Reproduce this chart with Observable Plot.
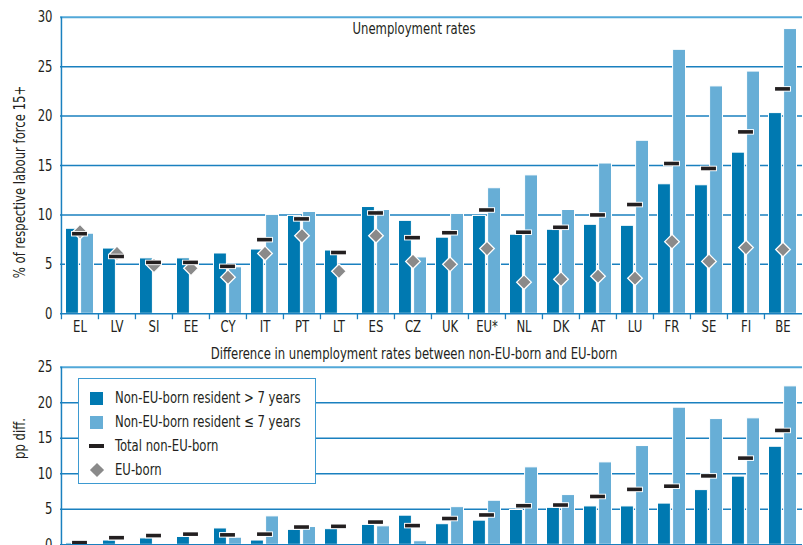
<!DOCTYPE html>
<html><head><meta charset="utf-8">
<script src="https://cdn.jsdelivr.net/npm/d3@7"></script>
<script src="https://cdn.jsdelivr.net/npm/@observablehq/plot@0.6"></script>
<style>
html,body{margin:0;padding:0;background:#fff;overflow:hidden;}
#wrap{position:relative;width:803px;height:545px;overflow:hidden;font-family:"Liberation Sans Narrow","Arial Narrow","DejaVu Sans Condensed",sans-serif;color:#231f20;}
#top{position:absolute;left:0;top:0;}
#bot{position:absolute;left:0;top:340px;}
#legend{position:absolute;left:78px;top:378px;width:236px;height:104px;border:1.5px solid #3d9ad1;background:#fff;font-size:16px;}
.row{position:absolute;left:0;height:24px;line-height:24px;width:230px;}
.row span.t{position:absolute;left:36px;top:0;white-space:nowrap;transform-origin:0 50%;}
.sw{position:absolute;}
</style>
</head><body>
<div id="wrap">
  <div id="top"></div>
  <div id="bot"></div>
  <div id="legend"></div>
</div>
<script>
const countries = ["EL","LV","SI","EE","CY","IT","PT","LT","ES","CZ","UK","EU*","NL","DK","AT","LU","FR","SE","FI","BE"];
// Unemployment rates (%)
const rateLong   = [8.6,6.6,5.6,5.6,6.1,6.5,9.9,6.4,10.8,9.4,7.7,9.9,8.0,8.5,9.0,8.9,13.1,13.0,16.3,20.3];
const rateRecent = [8.1,null,null,null,4.7,10.0,10.3,null,10.5,5.7,10.1,12.7,14.0,10.5,15.2,17.5,26.7,23.0,24.5,28.8];
const rateTotal  = [8.1,5.8,5.2,5.2,4.8,7.5,9.6,6.2,10.2,7.7,8.2,10.5,8.25,8.75,10.0,11.05,15.2,14.7,18.4,22.75];
const rateEU     = [8.3,6.1,4.9,4.6,3.7,6.1,7.9,4.3,7.9,5.3,5.0,6.6,3.2,3.5,3.8,3.6,7.3,5.3,6.7,6.5];
// Differences (pp)
const diffLong   = [0.2,0.6,0.9,1.1,2.3,0.6,2.1,2.2,2.8,4.1,2.9,3.4,4.9,5.2,5.4,5.4,5.8,7.7,9.6,13.8];
const diffRecent = [-0.2,null,null,null,1.0,4.0,2.5,null,2.6,0.5,5.3,6.2,10.9,7.0,11.6,13.9,19.3,17.7,17.8,22.3];
const diffTotal  = [0.3,1.0,1.3,1.5,1.4,1.5,2.5,2.6,3.2,2.7,3.7,4.2,5.5,5.6,6.8,7.8,8.25,9.7,12.2,16.1];

const topTicks = [0,5,10,15,20,25,30];
const botTicks = [0,5,10,15,20,25];
const legendLabels = ["Non-EU-born resident > 7 years","Non-EU-born resident \u2264 7 years","Total non-EU-born","EU-born"];

const DARK = "#0079b1", LIGHT = "#67aed6", DASH = "#231f20", GREY = "#8a8a8a";
const GRID = "#1a80bf", TOPLINE = "#52a8d8";
const FONT = '"Liberation Sans Narrow","Arial Narrow","DejaVu Sans Condensed",sans-serif';
const SQUEEZE = 0.81;

const W = 803, ML = 60, MR = 1;
const bw = (W - ML - MR) / countries.length;

function rows(a, b, t, e) {
  return countries.map((c, i) => ({c, long: a[i], recent: b[i], total: t[i], eu: e ? e[i] : null}));
}

function panel({data, domain, ticks, height, mt, mb, title, titleDy, ylabel, ylabelDy, diamonds, xLabels}) {
  const maxT = ticks[ticks.length - 1];
  const marks = [
    Plot.ruleY(ticks.slice(1, -1), {stroke: GRID, strokeWidth: 1.5}),
    Plot.ruleY([maxT], {stroke: TOPLINE, strokeWidth: 2}),
    Plot.barY(data.filter(d => d.long != null), {x: "c", y: "long", fill: DARK, stroke: "#fff", strokeWidth: 1, insetLeft: 4.5, insetRight: bw - 17.5}),
    Plot.barY(data.filter(d => d.recent != null), {x: "c", y: "recent", fill: LIGHT, stroke: "#fff", strokeWidth: 1, insetLeft: 19.6, insetRight: bw - 32.6}),
  ];
  if (diamonds) marks.push(Plot.dot(data, {x: "c", y: "eu", symbol: "diamond2", r: 6.6, fill: GREY, stroke: "#fff", strokeWidth: 1.3}));
  marks.push(
    Plot.tickY(data, {x: "c", y: "total", stroke: "#fff", strokeWidth: 5.5, insetLeft: bw/2 - 8.5, insetRight: bw/2 - 8.5}),
    Plot.tickY(data, {x: "c", y: "total", stroke: DASH, strokeWidth: 3.6, insetLeft: bw/2 - 7.5, insetRight: bw/2 - 7.5}),
    Plot.ruleY([0], {stroke: GRID, strokeWidth: 1.5}),
    Plot.ruleX(countries, {x: d => d, dx: -bw/2, y1: 0, y2: -(domain[1] / 50), stroke: GRID, strokeWidth: 1.3}),
    Plot.ruleX([countries[0]], {x: d => d, dx: -bw/2, y1: 0, y2: maxT, stroke: GRID, strokeWidth: 1.5}),
    Plot.axisY({ticks, tickSize: 0, tickPadding: 8, fontSize: 16, label: null}),
    Plot.text([title], {frameAnchor: "top", dx: -17.5, dy: titleDy, lineAnchor: "middle", fontSize: 16, fill: DASH}),
    Plot.text([ylabel], {frameAnchor: "left", dx: -41, dy: ylabelDy, rotate: -90, textAnchor: "middle", lineAnchor: "middle", fontSize: 16, fill: DASH})
  );
  if (xLabels) marks.push(Plot.axisX({tickSize: 0, tickPadding: 7, fontSize: 16, label: null}));
  return Plot.plot({
    width: W, height,
    marginLeft: ML, marginRight: MR, marginTop: mt, marginBottom: mb,
    x: {domain: countries, padding: 0, axis: null},
    y: {domain, axis: null},
    style: {fontFamily: FONT, color: "#231f20", background: "transparent", overflow: "visible"},
    marks
  });
}

document.getElementById("top").appendChild(panel({
  data: rows(rateLong, rateRecent, rateTotal, rateEU),
  domain: [0, 30], ticks: topTicks, height: 340, mt: 16.7, mb: 26.7,
  title: "Unemployment rates", titleDy: 11.5,
  ylabel: "% of respective labour force 15+", ylabelDy: 16.5, diamonds: true, xLabels: true
}));

document.getElementById("bot").appendChild(panel({
  data: rows(diffLong, diffRecent, diffTotal, null),
  domain: [0, 25], ticks: botTicks, height: 230, mt: 26.7, mb: 25.7,
  title: "Difference in unemployment rates between non-EU-born and EU-born", titleDy: -13.5,
  ylabel: "pp diff.", ylabelDy: -17.5, diamonds: false, xLabels: false
}));

// condense text horizontally (narrow typeface look)
document.querySelectorAll("#wrap svg text").forEach(el => {
  if (el.querySelector("tspan")) return;
  const L = el.getComputedTextLength();
  if (L > 0) {
    el.setAttribute("textLength", (L * SQUEEZE).toFixed(2));
    el.setAttribute("lengthAdjust", "spacingAndGlyphs");
  }
});

// legend
const leg = document.getElementById("legend");
const swatches = [
  `<div class="sw" style="left:11px;top:5.5px;width:13px;height:13px;background:${DARK}"></div>`,
  `<div class="sw" style="left:11px;top:5.5px;width:13px;height:13px;background:${LIGHT}"></div>`,
  `<div class="sw" style="left:10px;top:10px;width:15px;height:4px;background:${DASH}"></div>`,
  `<div class="sw" style="left:12.5px;top:7px;width:10px;height:10px;background:${GREY};transform:rotate(45deg)"></div>`
];
legendLabels.forEach((lab, i) => {
  const r = document.createElement("div");
  r.className = "row";
  r.style.top = (7 + i * 24) + "px";
  r.innerHTML = swatches[i] + `<span class="t"></span>`;
  const t = r.querySelector(".t");
  t.textContent = lab;
  t.style.transform = `scaleX(${SQUEEZE})`;
  leg.appendChild(r);
});
</script>
</body></html>
